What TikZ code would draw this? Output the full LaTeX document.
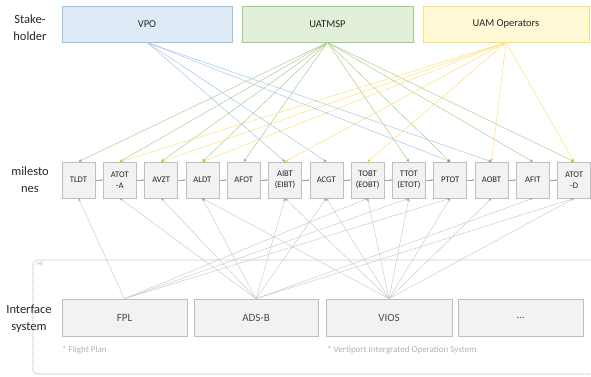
\documentclass[tikz,border=0pt]{standalone}
\usepackage{fontspec}
\setmainfont{Carlito}
\newfontfamily\krfont{Noto Sans CJK KR}
\usetikzlibrary{arrows.meta}
\definecolor{blueFill}{HTML}{DEEBF7}
\definecolor{blueLine}{HTML}{9DC3E6}
\definecolor{blueTip}{HTML}{5B9BD5}
\definecolor{greenFill}{HTML}{E2F0D9}
\definecolor{greenLine}{HTML}{A2CC85}
\definecolor{greenTip}{HTML}{70AD47}
\definecolor{yellowFill}{HTML}{FFF8D4}
\definecolor{yellowLine}{HTML}{FFDD70}
\definecolor{yellowTip}{HTML}{FFC000}
\definecolor{greyLine}{HTML}{C8C8C8}
\definecolor{greyTip}{HTML}{A6A6A6}
\definecolor{boxFill}{HTML}{F2F2F2}
\definecolor{boxLine}{HTML}{BFBFBF}
\definecolor{frameLine}{HTML}{7F9FC4}
\tikzset{
  stk/.style={draw, line width=0.8pt, minimum height=36pt, inner sep=0pt,
    font=\fontsize{10.5}{12}\selectfont, text=black!85},
  ms/.style={draw=boxLine, fill=boxFill, line width=0.6pt, minimum width=33pt,
    minimum height=36pt, inner sep=0pt, align=center,
    font=\fontsize{8.6}{11}\selectfont, text=black!85},
  ifs/.style={draw=boxLine, fill=boxFill, line width=0.6pt, minimum height=37pt,
    inner sep=0pt, font=\fontsize{11}{12}\selectfont, text=black!70},
  side/.style={align=center, font=\fontsize{12.5}{17}\selectfont, text=black!85},
  note/.style={anchor=west, inner sep=0pt, font=\fontsize{9}{10}\selectfont, text=black!30},
  bl/.style={draw=blueLine, line width=0.45pt, -{Stealth[length=3pt,width=2.6pt,color=blueTip]}},
  gr/.style={draw=greenLine, line width=0.45pt, -{Stealth[length=3pt,width=2.6pt,color=greenTip]}},
  ye/.style={draw=yellowLine, line width=0.45pt, -{Stealth[length=3pt,width=2.6pt,color=yellowTip]}},
  gy/.style={draw=greyLine, line width=0.45pt, -{Stealth[length=3pt,width=2.6pt,color=greyTip]}},
  chain/.style={draw=greyTip, line width=0.45pt, -{Stealth[length=2.5pt,width=2.2pt]}}
}
\begin{document}
\begin{tikzpicture}[x=1pt,y=-1pt]
\useasboundingbox (0,0) rectangle (591,377);
% dashed frame
\draw[frameLine, line width=0.6pt, dash pattern=on 1pt off 1pt, rounded corners=4pt]
  (33,260) rectangle (600,374);
\node[anchor=north west, inner sep=0pt, font=\krfont\fontsize{4.5}{5}\selectfont, text=black!30] (ex) at (36,262) {(예)};
% side labels
\node[side] (lstake) at (30,28) {Stake-\\holder};
\node[side] (lmile) at (30,180) {milesto\\nes};
\node[side] (lint) at (29,319) {Interface\\system};
% stakeholders
\node[stk, draw=blueLine, fill=blueFill, minimum width=170pt] (vpo) at (147,24) {VPO};
\node[stk, draw=greenLine, fill=greenFill, minimum width=171pt] (uat) at (327.5,24) {UATMSP};
\node[stk, draw=yellowLine, fill=yellowFill, minimum width=166pt] (uam) at (506,24) {UAM Operators};
% milestones
\foreach \i/\t in {0/TLDT,1/ATOT\\-A,2/AVZT,3/ALDT,4/AFOT,5/AIBT\\(EIBT),6/ACGT,7/TOBT\\(EOBT),8/TTOT\\(ETOT),9/PTOT,10/AOBT,11/AFIT,12/ATOT\\-D}
  \node[ms] (m\i) at ({78.5+41.3*\i},180) {\t};
\foreach \i [evaluate=\i as \j using int(\i+1)] in {0,...,11}
  \draw[chain] (m\i.east) -- (m\j.west);
% interface systems
\node[ifs, minimum width=125pt] (fpl) at (124.5,317.5) {FPL};
\node[ifs, minimum width=124pt] (ads) at (256,317.5) {ADS-B};
\node[ifs, minimum width=126pt] (vios) at (389,317.5) {VIOS};
\node[ifs, minimum width=125pt] (etc) at (520.5,317.5) {...};
\node[note] (n1) at (62,350) {* Flight Plan};
\node[note] (n2) at (327,350) {* Vertiport Intergrated Operation System};
% stakeholder -> milestones
\foreach \k in {0,1,2,3,4,8,9,11,12} \draw[gr] (uat.south) -- (m\k.north);
\foreach \k in {1,2,3,5,7,10,12} \draw[ye] (uam.south) -- (m\k.north);
\foreach \k in {5,6,9,10} \draw[bl] (vpo.south) -- (m\k.north);
% interface -> milestones
\foreach \k in {0,7,8,9} \draw[gy] (fpl.north) -- (m\k.south);
\foreach \k in {1,2,3,5,6,11,12} \draw[gy] (ads.north) -- (m\k.south);
\foreach \k in {3,5,6,7,8,9,10,12} \draw[gy] (vios.north) -- (m\k.south);
\end{tikzpicture}
\end{document}
